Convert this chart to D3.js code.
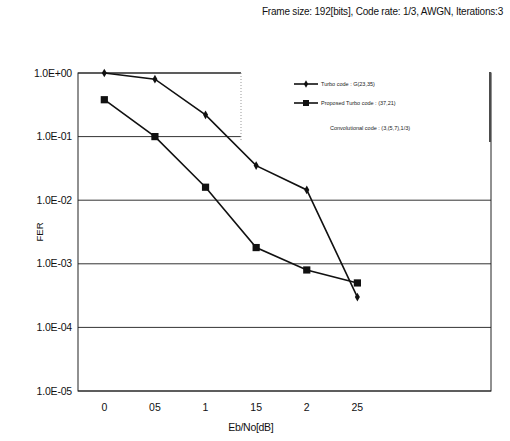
<!DOCTYPE html>
<html>
<head>
<meta charset="utf-8">
<script src="https://cdn.jsdelivr.net/npm/d3@7"></script>
<style>
 body { margin: 0; background: #fff; }
 svg { display: block; font-family: "Liberation Sans", Arial, sans-serif; }
</style>
</head>
<body>
<svg width="510" height="441"></svg>
<script>
// data
var ebno = [0, 0.5, 1, 1.5, 2, 2.5];
var ebnoLabels = ["0", "05", "1", "15", "2", "25"];
var turboFer = [1.0, 0.8, 0.22, 0.035, 0.0145, 0.0003];
var proposedFer = [0.38, 0.1, 0.016, 0.0018, 0.0008, 0.0005];
var yTicks = [1, 1e-1, 1e-2, 1e-3, 1e-4, 1e-5];
var yTickLabels = ["1.0E+00", "1.0E-01", "1.0E-02", "1.0E-03", "1.0E-04", "1.0E-05"];
var legendNames = ["Turbo code : G(23,35)", "Proposed Turbo code : (37,21)", "Convolutional code : (3,(5,7),1/3)"];
var title = "Frame size: 192[bits], Code rate: 1/3, AWGN, Iterations:3";

var svg = d3.select("svg");
var margin = { top: 73, right: 19, bottom: 50, left: 78 };
var width = 510 - margin.left - margin.right,
 height = 441 - margin.top - margin.bottom;

var x = d3.scaleLinear().domain([-0.26, 3.82]).range([0, width]);
var y = d3.scaleLog().domain([1e-5, 1]).range([height, 0]);

var g = svg.append("g")
 .attr("transform", "translate(" + margin.left + "," + margin.top + ")");

// title
svg.append("text")
 .attr("x", 503)
 .attr("y", 15)
 .attr("text-anchor", "end")
 .attr("font-size", "10px")
 .attr("letter-spacing", "-0.2")
 .attr("fill", "#111")
 .text(title);

// grid lines
g.selectAll(".grid")
 .data(yTicks)
 .enter()
 .append("line")
 .attr("class", "grid")
 .attr("x1", 0)
 .attr("x2", width)
 .attr("y1", function(d) { return y(d); })
 .attr("y2", function(d) { return y(d); })
 .attr("stroke", "#333")
 .attr("stroke-width", 1);

// plot frame
g.append("rect")
 .attr("x", 0)
 .attr("y", 0)
 .attr("width", width)
 .attr("height", height)
 .attr("fill", "none")
 .attr("stroke", "#222")
 .attr("stroke-width", 1);

// y axis labels
g.selectAll(".ylab")
 .data(yTicks)
 .enter()
 .append("text")
 .attr("class", "ylab")
 .attr("x", -6)
 .attr("y", function(d) { return y(d) + 3.5; })
 .attr("text-anchor", "end")
 .attr("font-size", "10.5px")
 .attr("letter-spacing", "-0.2")
 .attr("fill", "#111")
 .text(function(d, i) { return yTickLabels[i]; });

// x axis labels
g.selectAll(".xlab")
 .data(ebno)
 .enter()
 .append("text")
 .attr("class", "xlab")
 .attr("x", function(d) { return x(d); })
 .attr("y", height + 20)
 .attr("text-anchor", "middle")
 .attr("font-size", "10.5px")
 .attr("fill", "#111")
 .text(function(d, i) { return ebnoLabels[i]; });

// axis titles
g.append("text")
 .attr("x", (x(0) + x(2.5)) / 2 + 20)
 .attr("y", height + 40)
 .attr("text-anchor", "middle")
 .attr("font-size", "10.5px")
 .attr("letter-spacing", "-0.3")
 .attr("fill", "#111")
 .text("Eb/No[dB]");

svg.append("text")
 .attr("transform", "translate(43,232) rotate(-90)")
 .attr("text-anchor", "middle")
 .attr("font-size", "9.5px")
 .attr("fill", "#111")
 .text("FER");

// legend box (white, covers the grid)
var legend = svg.append("g");
legend.append("rect")
 .attr("x", 241)
 .attr("y", 70)
 .attr("width", 250)
 .attr("height", 72)
 .attr("fill", "#fff");
legend.append("line")
 .attr("x1", 490).attr("x2", 490)
 .attr("y1", 72).attr("y2", 142)
 .attr("stroke", "#111").attr("stroke-width", 1.5);
legend.append("line")
 .attr("x1", 241).attr("x2", 241)
 .attr("y1", 73).attr("y2", 142)
 .attr("stroke", "#999").attr("stroke-width", 1)
 .attr("stroke-dasharray", "1,2");

var line = d3.line()
 .x(function(d) { return x(d[0]); })
 .y(function(d) { return y(d[1]); });

var series = [
 { name: legendNames[0], values: d3.zip(ebno, turboFer), symbol: d3.symbolDiamond, size: 22 },
 { name: legendNames[1], values: d3.zip(ebno, proposedFer), symbol: d3.symbolSquare, size: 52 }
];

series.forEach(function(s, i) {
 g.append("path")
  .datum(s.values)
  .attr("d", line)
  .attr("fill", "none")
  .attr("stroke", "#111")
  .attr("stroke-width", 1.6);

 g.selectAll(".mark" + i)
  .data(s.values)
  .enter()
  .append("path")
  .attr("class", "mark" + i)
  .attr("transform", function(d) { return "translate(" + x(d[0]) + "," + y(d[1]) + ")"; })
  .attr("d", d3.symbol().type(s.symbol).size(s.size))
  .attr("fill", "#111");

 // legend entry
 var ly = 84 + i * 19;
 legend.append("line")
  .attr("x1", 294).attr("x2", 318)
  .attr("y1", ly).attr("y2", ly)
  .attr("stroke", "#111").attr("stroke-width", 1.6);
 legend.append("path")
  .attr("transform", "translate(306," + ly + ")")
  .attr("d", d3.symbol().type(s.symbol).size(s.size * 0.7))
  .attr("fill", "#111");
 legend.append("text")
  .attr("x", 321)
  .attr("y", ly + 2)
  .attr("font-size", "5.5px")
  .attr("fill", "#222")
  .text(s.name);
});

legend.append("text")
 .attr("x", 330)
 .attr("y", 130)
 .attr("font-size", "5.5px")
 .attr("fill", "#222")
 .text(legendNames[2]);
</script>
</body>
</html>
